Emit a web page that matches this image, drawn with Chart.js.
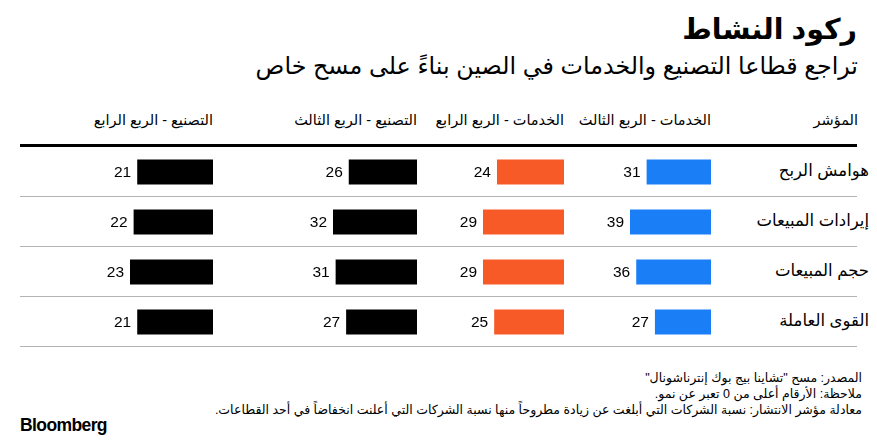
<!DOCTYPE html>
<html lang="ar">
<head>
<meta charset="utf-8">
<script src="https://cdn.jsdelivr.net/npm/chart.js@4"></script>
<style>
  html, body { margin: 0; padding: 0; background: #fff; }
  body { width: 877px; height: 441px; position: relative; overflow: hidden;
         font-family: "Liberation Sans", "DejaVu Sans", sans-serif; color: #000; }
  .t { position: absolute; direction: rtl; white-space: nowrap; text-align: right; }
  #title { right: 20px; top: 13px; font-size: 28.5px; font-weight: bold; }
  #subtitle { right: 19px; top: 52px; font-size: 23.8px; }
  .head { top: 112px; font-size: 14.5px; }
  .row { font-size: 16.5px; right: 8px; }
  .rule { position: absolute; left: 20px; width: 837px; height: 1px; background: #b4b4b4; }
  #thick { position: absolute; left: 20px; width: 837px; top: 144px; height: 3px; background: #000; }
  .note { right: 15px; font-size: 12.5px; }
  #brand { position: absolute; left: 20px; top: 415px; font-family: "Liberation Sans", Arial, sans-serif;
           font-weight: bold; font-size: 17.5px; letter-spacing: -0.6px; }
  canvas { position: absolute; }
</style>
</head>
<body>
<div id="title" class="t">ركود النشاط</div>
<div id="subtitle" class="t">تراجع قطاعا التصنيع والخدمات في الصين بناءً على مسح خاص</div>
<div id="thick"></div>
<div id="brand">Bloomberg</div>

<script>
const indicators = ['هوامش الربح', 'إيرادات المبيعات', 'حجم المبيعات', 'القوى العاملة'];
const indicatorHeader = 'المؤشر';
const columnTitles = ['الخدمات - الربع الثالث', 'الخدمات - الربع الرابع', 'التصنيع - الربع الثالث', 'التصنيع - الربع الرابع'];
const servicesQ3 = [31, 39, 36, 27];
const servicesQ4 = [24, 29, 29, 25];
const manufacturingQ3 = [26, 32, 31, 27];
const manufacturingQ4 = [21, 22, 23, 21];
const notes = [
  'المصدر: مسح "تشاينا بيج بوك إنترناشونال"',
  'ملاحظة: الأرقام أعلى من 0 تعبر عن نمو.',
  'معادلة مؤشر الانتشار: نسبة الشركات التي أبلغت عن زيادة مطروحاً منها نسبة الشركات التي أعلنت انخفاضاً في أحد القطاعات.'
];

const columns = [servicesQ3, servicesQ4, manufacturingQ3, manufacturingQ4];
const colors = ['#1a7ff7', '#f85a27', '#000000', '#000000'];

// layout
const colRight = [711, 564, 417, 213];
const barArea = [81, 81, 84, 83];
const labelPad = 42;
const tableTop = 147;
const rowH = 50;

function addText(cls, text, css) {
  const d = document.createElement('div');
  d.className = 't ' + cls;
  d.textContent = text;
  Object.assign(d.style, css);
  document.body.appendChild(d);
}

addText('head', indicatorHeader, { right: '19px' });
columnTitles.forEach((t, i) => addText('head', t, { right: (877 - colRight[i]) + 'px' }));

indicators.forEach((name, i) => {
  addText('row', name, { top: (tableTop + i * rowH + 14) + 'px' });
  const r = document.createElement('div');
  r.className = 'rule';
  r.style.top = (tableTop + (i + 1) * rowH - 1) + 'px';
  document.body.appendChild(r);
});

notes.forEach((n, i) => addText('note', n, { top: (370 + i * 16) + 'px' }));

const valueLabels = {
  id: 'valueLabels',
  afterDatasetsDraw(chart) {
    const ctx = chart.ctx;
    ctx.save();
    ctx.font = '15.5px "Liberation Sans", Arial, sans-serif';
    ctx.fillStyle = '#000';
    ctx.textAlign = 'right';
    ctx.textBaseline = 'middle';
    chart.getDatasetMeta(0).data.forEach((bar, i) => {
      ctx.fillText(chart.data.datasets[0].data[i], bar.x - 6, bar.y + 1);
    });
    ctx.restore();
  }
};

columns.forEach((vals, c) => {
  const cv = document.createElement('canvas');
  const w = barArea[c] + labelPad;
  cv.width = w;
  cv.height = rowH * indicators.length;
  cv.style.left = (colRight[c] - w) + 'px';
  cv.style.top = tableTop + 'px';
  document.body.appendChild(cv);
  new Chart(cv, {
    type: 'bar',
    data: {
      labels: indicators,
      datasets: [{
        data: vals,
        backgroundColor: colors[c],
        borderWidth: 0,
        barPercentage: 0.5,
        categoryPercentage: 1,
      }],
    },
    options: {
      indexAxis: 'y',
      responsive: false,
      animation: false,
      layout: { padding: { left: labelPad, right: 0, top: 0, bottom: 0 } },
      plugins: { legend: { display: false }, tooltip: { enabled: false } },
      scales: {
        x: { display: false, reverse: true, min: 0, max: Math.max(...vals) },
        y: { display: false },
      },
    },
    plugins: [valueLabels],
  });
});
</script>
</body>
</html>
